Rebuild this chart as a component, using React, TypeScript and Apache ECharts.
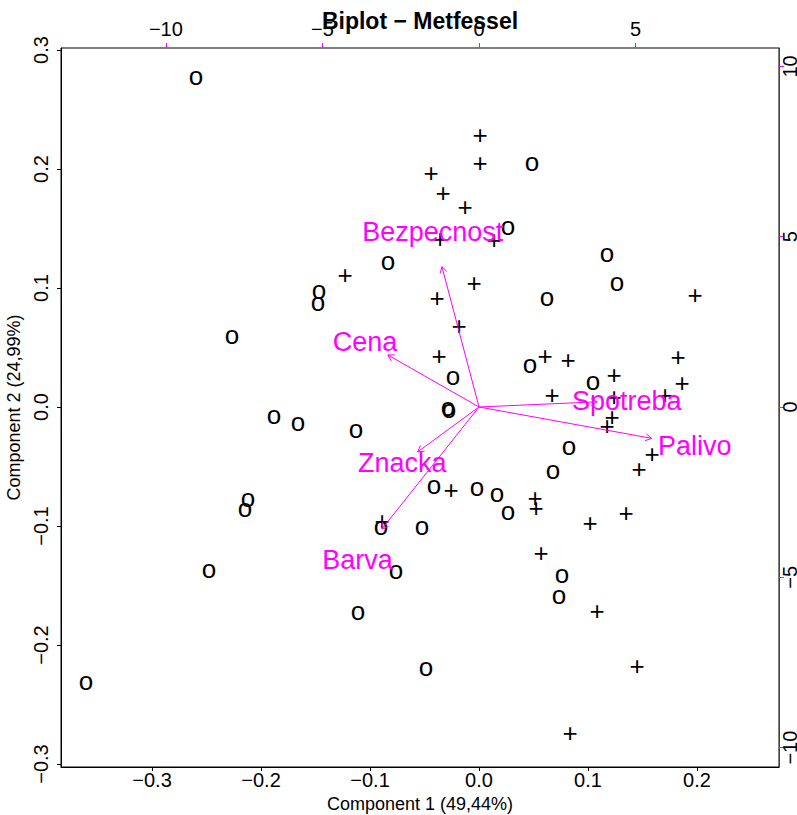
import React, { useEffect, useRef } from 'react';
import * as echarts from 'echarts';

// Observation scores (Component 1, Component 2) drawn as "o"
const circlePoints: [number, number][] = [
  [-0.2596, 0.2765], [0.0486, 0.2042], [0.0266, 0.1504], [-0.0835, 0.121],
  [0.1174, 0.1277], [0.1266, 0.1034], [0.0624, 0.0908], [-0.1468, 0.0966],
  [-0.1477, 0.0866], [-0.2266, 0.0588], [0.0468, 0.0345], [-0.0239, 0.0244],
  [0.1046, 0.0202], [-0.0284, -0.0017], [-0.0275, -0.0034], [-0.1881, -0.0084],
  [-0.1661, -0.0143], [-0.1128, -0.0202], [0.0826, -0.0345], [0.0679, -0.0546],
  [-0.0413, -0.0672], [-0.0018, -0.0689], [0.0165, -0.0739], [0.0266, -0.0891],
  [-0.2119, -0.0782], [-0.2147, -0.0866], [-0.0899, -0.1017], [-0.0523, -0.1017],
  [-0.0761, -0.1387], [-0.2477, -0.1378], [0.0761, -0.142], [0.0734, -0.1597],
  [-0.111, -0.1731], [-0.0486, -0.2202], [-0.3606, -0.2319],
];

// Observation scores drawn as "+"
const plusPoints: [number, number][] = [
  [0.0009, 0.2286], [0.0009, 0.205], [-0.044, 0.1966], [-0.033, 0.1798],
  [-0.0128, 0.1681], [-0.0358, 0.1412], [0.0138, 0.1403], [-0.1229, 0.1109],
  [-0.0046, 0.1042], [-0.0385, 0.0916], [0.1982, 0.0941], [-0.0183, 0.0681],
  [-0.0367, 0.0429], [0.0606, 0.0429], [0.0817, 0.0395], [0.1826, 0.042],
  [0.1239, 0.0269], [0.1862, 0.0202], [0.067, 0.0101], [0.1239, 0.0084],
  [0.1706, 0.0101], [0.122, -0.0084], [0.1174, -0.016], [0.1587, -0.0395],
  [0.1468, -0.0521], [-0.0257, -0.0697], [0.0514, -0.0765], [0.0523, -0.0849],
  [0.1349, -0.0891], [0.1018, -0.0975], [-0.089, -0.0958], [0.0569, -0.1227],
  [0.1083, -0.1714], [0.145, -0.2176], [0.0835, -0.2739],
];

// Variable loadings (top / right axes)
const varNames = ['Bezpecnost', 'Cena', 'Spotreba', 'Palivo', 'Znacka', 'Barva'];
const varX = [-1.48, -3.64, 4.72, 6.89, -2.45, -3.88];
const varY = [5.15, 1.91, 0.19, -1.15, -1.65, -4.48];
const ARROW_SCALE = 0.8;

// Tick values
const xTicks = [-0.3, -0.2, -0.1, 0, 0.1, 0.2];
const yTicks = [-0.3, -0.2, -0.1, 0, 0.1, 0.2, 0.3];
const topTicks = [-10, -5, 0, 5];
const rightTicks = [-10, -5, 0, 5, 10];

const FONT = '"Liberation Sans", Arial, Helvetica, sans-serif';
const MAGENTA = '#FF00FF';

const fmt1 = (v: number) => v.toFixed(1).replace('-', '\u2212');
const fmt0 = (v: number) => String(Math.round(v)).replace('-', '\u2212');

export default function App() {
  const ref = useRef<HTMLDivElement>(null);
  useEffect(() => {
    if (!ref.current) return;
    const chart = echarts.init(ref.current, undefined, { renderer: 'svg' });

    const pointSeries = (data: [number, number][], glyph: string, dy: number) => ({
      type: 'custom',
      xAxisIndex: 0,
      yAxisIndex: 0,
      silent: true,
      clip: false,
      data,
      encode: { x: 0, y: 1 },
      renderItem: (_params: any, api: any) => {
        const p = api.coord([api.value(0), api.value(1)]);
        return {
          type: 'text',
          x: p[0],
          y: p[1] + dy,
          style: {
            text: glyph,
            fill: '#000',
            fontSize: 26,
            fontFamily: FONT,
            align: 'center',
            verticalAlign: 'middle',
            textAlign: 'center',
            textVerticalAlign: 'middle',
          },
        };
      },
    });

    const varData = varNames.map((n, i) => [varX[i], varY[i], i]);

    const option: any = {
      animation: false,
      backgroundColor: '#fff',
      textStyle: { fontFamily: FONT },
      grid: {
        left: 61,
        top: 48,
        width: 718,
        height: 719,
        show: true,
        borderColor: '#000',
        borderWidth: 1,
        backgroundColor: 'transparent',
        containLabel: false,
        outerBoundsMode: 'none',
      },
      graphic: [
        {
          type: 'text',
          x: 420,
          y: 21,
          z: 100,
          style: {
            text: 'Biplot \u2212 Metfessel',
            fill: '#000',
            fontSize: 23,
            fontWeight: 'bold',
            fontFamily: FONT,
            align: 'center',
            verticalAlign: 'middle',
          },
        },
      ],
      xAxis: [
        {
          type: 'value',
          position: 'bottom',
          min: -0.3835,
          max: 0.2752,
          splitLine: { show: false },
          axisLine: { show: true, onZero: false, lineStyle: { color: '#000', width: 1 } },
          axisTick: { show: true, inside: false, length: 4, customValues: xTicks, lineStyle: { color: '#000' } },
          axisLabel: { customValues: xTicks, formatter: fmt1, fontSize: 20, color: '#000', margin: 3, fontFamily: FONT },
          name: 'Component 1 (49,44%)',
          nameLocation: 'middle',
          nameGap: 27,
          nameTextStyle: { fontSize: 18, color: '#000', fontFamily: FONT },
        },
        {
          type: 'value',
          position: 'top',
          min: -13.35,
          max: 9.58,
          splitLine: { show: false },
          axisLine: { show: false, onZero: false },
          axisTick: { show: true, inside: false, length: 5, customValues: topTicks, lineStyle: { color: MAGENTA } },
          axisLabel: { customValues: topTicks, formatter: fmt0, fontSize: 20, color: '#000', margin: 9, fontFamily: FONT },
        },
      ],
      yAxis: [
        {
          type: 'value',
          position: 'left',
          min: -0.3025,
          max: 0.3017,
          splitLine: { show: false },
          axisLine: { show: true, onZero: false, lineStyle: { color: '#000', width: 1 } },
          axisTick: { show: true, inside: false, length: 4, customValues: yTicks, lineStyle: { color: '#000' } },
          axisLabel: { customValues: yTicks, formatter: fmt1, fontSize: 20, color: '#000', margin: 10, rotate: 90, fontFamily: FONT },
          name: 'Component 2 (24,99%)',
          nameLocation: 'middle',
          nameRotate: 90,
          nameGap: 34,
          nameTextStyle: { fontSize: 18, color: '#000', fontFamily: FONT },
        },
        {
          type: 'value',
          position: 'right',
          min: -10.57,
          max: 10.54,
          splitLine: { show: false },
          axisLine: { show: true, onZero: false, lineStyle: { color: '#6a2a6a', width: 1 } },
          axisTick: { show: true, inside: false, length: 5, customValues: rightTicks, lineStyle: { color: MAGENTA } },
          axisLabel: { customValues: rightTicks, formatter: fmt0, fontSize: 20, color: '#000', margin: 1, rotate: 90, fontFamily: FONT },
        },
      ],
      series: [
        pointSeries(circlePoints, 'o', -2),
        pointSeries(plusPoints, '+', 0),
        {
          type: 'custom',
          xAxisIndex: 1,
          yAxisIndex: 1,
          silent: true,
          clip: false,
          data: varData,
          encode: { x: 0, y: 1 },
          renderItem: (_params: any, api: any) => {
            const lx = api.value(0);
            const ly = api.value(1);
            const idx = api.value(2);
            const o = api.coord([0, 0]);
            const e = api.coord([lx * ARROW_SCALE, ly * ARROW_SCALE]);
            const l = api.coord([lx, ly]);
            const ang = Math.atan2(e[1] - o[1], e[0] - o[0]);
            const hl = 7;
            const a1 = ang + Math.PI - Math.PI / 6;
            const a2 = ang + Math.PI + Math.PI / 6;
            const h1 = [e[0] + hl * Math.cos(a1), e[1] + hl * Math.sin(a1)];
            const h2 = [e[0] + hl * Math.cos(a2), e[1] + hl * Math.sin(a2)];
            return {
              type: 'group',
              children: [
                {
                  type: 'line',
                  shape: { x1: o[0], y1: o[1], x2: e[0], y2: e[1] },
                  style: { stroke: MAGENTA, lineWidth: 1 },
                },
                {
                  type: 'polyline',
                  shape: { points: [h1, e, h2] },
                  style: { stroke: MAGENTA, lineWidth: 1, fill: null },
                },
                {
                  type: 'text',
                  x: l[0],
                  y: l[1],
                  style: {
                    text: varNames[idx],
                    fill: MAGENTA,
                    fontSize: 27,
                    fontFamily: FONT,
                    align: 'center',
                    verticalAlign: 'middle',
                    textAlign: 'center',
                    textVerticalAlign: 'middle',
                  },
                },
              ],
            };
          },
        },
      ],
    };

    chart.setOption(option);
    return () => chart.dispose();
  }, []);

  return (
    <div
      ref={ref}
      style={{ position: 'absolute', left: 0, top: 0, width: 797, height: 815, background: '#fff' }}
    />
  );
}
